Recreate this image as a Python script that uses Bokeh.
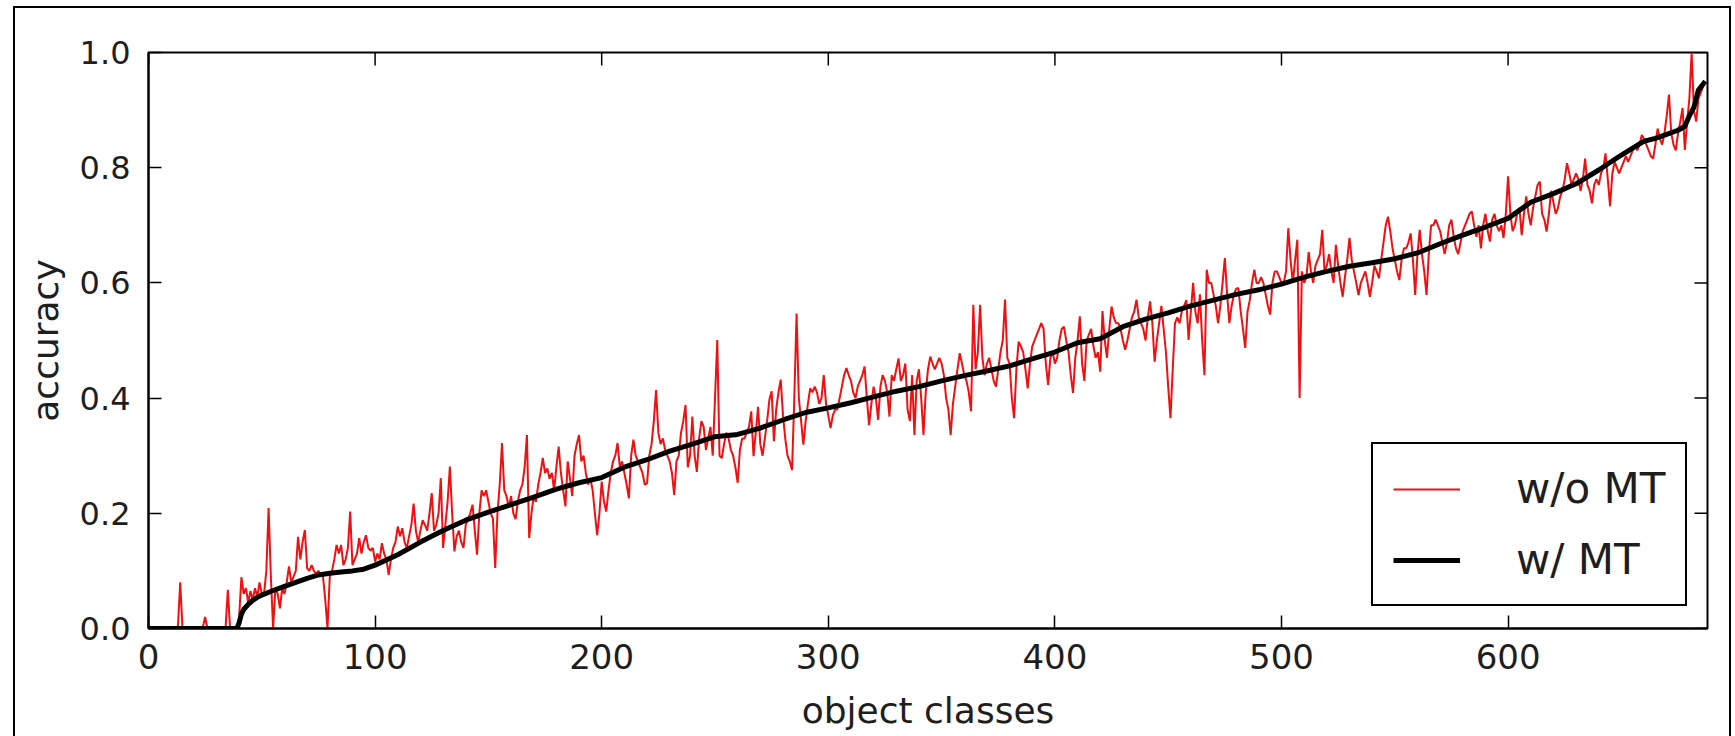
from bokeh.plotting import figure
from bokeh.models import Range1d, FixedTicker, PrintfTickFormatter, Legend, LegendItem
from bokeh.embed import file_html
from bokeh.resources import INLINE

# ---------------- data ----------------
x_ticks = [0, 100, 200, 300, 400, 500, 600]
y_ticks = [0.0, 0.2, 0.4, 0.6, 0.8, 1.0]

# accuracy per object class, without multi-task (red, one value per class index)
acc_wo_mt = [
    0, 0, 0, 0, 0, 0, 0, 0, 0, 0,
    0, 0, 0, 0.005, 0.08, 0, 0, 0, 0, 0,
    0, 0, 0, 0, 0.003, 0.02, 0, 0, 0, 0,
    0, 0, 0, 0, 0, 0.067, 0, 0, 0, 0,
    0.02, 0.089, 0.06, 0.07, 0.045, 0.065, 0.05, 0.07, 0.055, 0.08,
    0.06, 0.06, 0.1, 0.209, 0.09, 0, 0.07, 0.06, 0.035, 0.07,
    0.06, 0.08, 0.108, 0.08, 0.09, 0.1, 0.159, 0.12, 0.15, 0.171,
    0.105, 0.1, 0.11, 0.1, 0.095, 0.1, 0.095, 0.09, 0.05, 0,
    0.09, 0.1, 0.12, 0.145, 0.13, 0.145, 0.11, 0.12, 0.14, 0.203,
    0.11, 0.12, 0.13, 0.157, 0.13, 0.15, 0.162, 0.14, 0.135, 0.14,
    0.116, 0.13, 0.12, 0.148, 0.13, 0.12, 0.093, 0.12, 0.14, 0.15,
    0.177, 0.16, 0.174, 0.15, 0.14, 0.16, 0.18, 0.217, 0.17, 0.15,
    0.17, 0.188, 0.18, 0.17, 0.2, 0.235, 0.17, 0.18, 0.2, 0.261,
    0.14, 0.18, 0.22, 0.281, 0.2, 0.134, 0.16, 0.17, 0.15, 0.14,
    0.18, 0.19, 0.2, 0.215, 0.17, 0.128, 0.2, 0.24, 0.23, 0.24,
    0.22, 0.2, 0.191, 0.105, 0.2, 0.25, 0.322, 0.24, 0.23, 0.21,
    0.23, 0.2, 0.19, 0.22, 0.24, 0.25, 0.28, 0.336, 0.157, 0.2,
    0.23, 0.22, 0.25, 0.27, 0.296, 0.27, 0.278, 0.26, 0.27, 0.24,
    0.28, 0.316, 0.27, 0.24, 0.212, 0.29, 0.26, 0.23, 0.3, 0.32,
    0.336, 0.29, 0.3, 0.27, 0.25, 0.26, 0.24, 0.2, 0.162, 0.2,
    0.255, 0.22, 0.203, 0.24, 0.27, 0.29, 0.3, 0.322, 0.28, 0.29,
    0.27, 0.25, 0.226, 0.3, 0.328, 0.3, 0.29, 0.28, 0.27, 0.25,
    0.252, 0.3, 0.32, 0.36, 0.414, 0.34, 0.32, 0.33, 0.31, 0.3,
    0.29, 0.27, 0.232, 0.29, 0.3, 0.34, 0.36, 0.388, 0.28, 0.3,
    0.368, 0.3, 0.272, 0.33, 0.36, 0.35, 0.31, 0.33, 0.35, 0.3,
    0.4, 0.501, 0.3, 0.296, 0.32, 0.34, 0.33, 0.31, 0.3, 0.28,
    0.253, 0.31, 0.33, 0.33, 0.34, 0.35, 0.377, 0.299, 0.34, 0.385,
    0.32, 0.3, 0.33, 0.36, 0.397, 0.412, 0.325, 0.38, 0.41, 0.432,
    0.37, 0.33, 0.3, 0.29, 0.275, 0.4, 0.547, 0.4, 0.36, 0.319,
    0.36, 0.39, 0.417, 0.41, 0.42, 0.41, 0.39, 0.4, 0.44, 0.39,
    0.37, 0.348, 0.37, 0.38, 0.38, 0.4, 0.42, 0.44, 0.452, 0.44,
    0.43, 0.41, 0.4, 0.42, 0.43, 0.44, 0.455, 0.4, 0.353, 0.39,
    0.42, 0.4, 0.362, 0.42, 0.44, 0.43, 0.41, 0.368, 0.44, 0.43,
    0.45, 0.469, 0.43, 0.44, 0.46, 0.38, 0.36, 0.44, 0.336, 0.43,
    0.45, 0.4, 0.336, 0.41, 0.45, 0.472, 0.46, 0.45, 0.46, 0.47,
    0.46, 0.44, 0.4, 0.38, 0.336, 0.39, 0.42, 0.45, 0.478, 0.46,
    0.44, 0.43, 0.41, 0.377, 0.562, 0.45, 0.48, 0.562, 0.47, 0.44,
    0.46, 0.47, 0.45, 0.43, 0.42, 0.45, 0.48, 0.5, 0.571, 0.47,
    0.46, 0.4, 0.365, 0.45, 0.498, 0.49, 0.48, 0.45, 0.417, 0.46,
    0.49, 0.5, 0.51, 0.52, 0.53, 0.52, 0.46, 0.423, 0.47, 0.48,
    0.46, 0.47, 0.5, 0.52, 0.524, 0.5, 0.48, 0.44, 0.409, 0.47,
    0.5, 0.542, 0.46, 0.43, 0.5, 0.51, 0.52, 0.49, 0.47, 0.48,
    0.446, 0.551, 0.5, 0.47, 0.52, 0.559, 0.54, 0.53, 0.53, 0.52,
    0.5, 0.484, 0.5, 0.52, 0.54, 0.55, 0.571, 0.54, 0.53, 0.52,
    0.5, 0.54, 0.568, 0.53, 0.463, 0.5, 0.53, 0.56, 0.52, 0.48,
    0.42, 0.365, 0.45, 0.53, 0.54, 0.53, 0.55, 0.56, 0.57, 0.501,
    0.55, 0.6, 0.55, 0.53, 0.58, 0.5, 0.44, 0.623, 0.6, 0.6,
    0.58, 0.56, 0.53, 0.56, 0.6, 0.643, 0.58, 0.53, 0.56, 0.58,
    0.59, 0.591, 0.55, 0.52, 0.487, 0.55, 0.57, 0.6, 0.623, 0.6,
    0.6, 0.61, 0.6, 0.58, 0.56, 0.545, 0.6, 0.62, 0.62, 0.61,
    0.6, 0.6, 0.62, 0.695, 0.64, 0.6, 0.64, 0.675, 0.4, 0.62,
    0.6, 0.61, 0.654, 0.62, 0.6, 0.63, 0.64, 0.65, 0.692, 0.62,
    0.63, 0.65, 0.62, 0.6, 0.666, 0.63, 0.6, 0.576, 0.61, 0.64,
    0.678, 0.64, 0.62, 0.6, 0.579, 0.6, 0.61, 0.62, 0.6, 0.576,
    0.6, 0.63, 0.62, 0.608, 0.64, 0.67, 0.7, 0.715, 0.69, 0.66,
    0.64, 0.62, 0.605, 0.64, 0.66, 0.66, 0.67, 0.686, 0.64, 0.579,
    0.65, 0.692, 0.65, 0.62, 0.579, 0.65, 0.7, 0.7, 0.71, 0.7,
    0.69, 0.67, 0.65, 0.67, 0.7, 0.71, 0.68, 0.66, 0.65, 0.67,
    0.69, 0.7, 0.71, 0.72, 0.724, 0.7, 0.68, 0.7, 0.66, 0.7,
    0.72, 0.69, 0.672, 0.71, 0.72, 0.7, 0.69, 0.7, 0.678, 0.72,
    0.785, 0.72, 0.69, 0.7, 0.72, 0.73, 0.683, 0.72, 0.75, 0.72,
    0.7, 0.73, 0.75, 0.77, 0.776, 0.72, 0.71, 0.689, 0.72, 0.76,
    0.74, 0.72, 0.73, 0.75, 0.76, 0.78, 0.808, 0.79, 0.77, 0.78,
    0.79, 0.78, 0.76, 0.78, 0.816, 0.77, 0.76, 0.738, 0.77, 0.78,
    0.77, 0.79, 0.8, 0.825, 0.78, 0.733, 0.79, 0.81, 0.8, 0.79,
    0.8, 0.81, 0.82, 0.81, 0.82, 0.83, 0.84, 0.83, 0.84, 0.857,
    0.85, 0.84, 0.83, 0.82, 0.816, 0.84, 0.868, 0.85, 0.84, 0.86,
    0.89, 0.927, 0.86, 0.84, 0.83, 0.86, 0.88, 0.904, 0.831, 0.88,
    0.92, 1.0, 0.9, 0.88, 0.92, 0.93, 0.94, 0.95,
]
classes_wo = list(range(len(acc_wo_mt)))

# accuracy with multi-task (black, sorted curve) read at sample classes
classes_w = [0, 38, 39, 40, 41, 42, 44, 46, 48, 50, 55, 60, 65, 70, 75, 80, 85, 90, 95,
             100, 110, 120, 130, 140, 150, 160, 170, 180, 190, 200, 210, 220, 230, 240,
             250, 260, 270, 280, 290, 300, 310, 320, 330, 340, 350, 360, 370, 380, 390,
             400, 410, 420, 430, 440, 450, 460, 470, 480, 490, 500, 510, 520, 530, 540,
             550, 560, 570, 580, 590, 600, 610, 620, 630, 640, 650, 660, 665, 670, 675,
             678, 680, 682, 684, 686, 687]
acc_w_mt = [0, 0, 0.0, 0.01, 0.025, 0.033, 0.042, 0.049, 0.054, 0.058, 0.066, 0.073, 0.080,
            0.087, 0.093, 0.096, 0.098, 0.100, 0.103, 0.110, 0.128, 0.150, 0.170, 0.188,
            0.202, 0.215, 0.228, 0.242, 0.253, 0.262, 0.280, 0.293, 0.308, 0.320, 0.333,
            0.337, 0.348, 0.362, 0.375, 0.383, 0.392, 0.402, 0.412, 0.420, 0.430, 0.439,
            0.447, 0.456, 0.468, 0.480, 0.496, 0.503, 0.524, 0.537, 0.548, 0.560, 0.570,
            0.580, 0.588, 0.598, 0.610, 0.620, 0.629, 0.635, 0.642, 0.652, 0.668, 0.683,
            0.697, 0.712, 0.740, 0.755, 0.772, 0.796, 0.822, 0.846, 0.851, 0.858, 0.865,
            0.872, 0.89, 0.905, 0.935, 0.945, 0.95]

series_labels = ["w/o MT", "w/ MT"]
x_max = 688
y_max = 1.0

# ---------------- figure ----------------
FONT = "DejaVu Sans"
FRAME_W, FRAME_H = 1559, 576
TICK_PX = 13

p = figure(frame_width=FRAME_W, frame_height=FRAME_H,
           min_border_left=133, min_border_right=22, min_border_top=44, min_border_bottom=108,
           x_range=Range1d(0, x_max), y_range=Range1d(0, y_max),
           output_backend="svg", toolbar_location=None)
p.styles = {"border-left": "2px solid black", "border-top": "2px solid black",
            "border-right": "2px solid black", "margin-left": "13px", "margin-top": "6px"}
p.background_fill_color = "white"
p.border_fill_color = "white"
p.outline_line_color = "black"
p.outline_line_alpha = 1.0
p.outline_line_width = 2
p.xgrid.visible = False
p.ygrid.visible = False

for ax in (p.xaxis[0], p.yaxis[0]):
    ax.axis_line_color = "black"
    ax.axis_line_width = 2
    ax.major_tick_in = TICK_PX
    ax.major_tick_out = 0
    ax.major_tick_line_width = 1.5
    ax.minor_tick_line_color = None
    ax.major_label_text_font = FONT
    ax.major_label_text_color = "#1e1e1e"
    ax.axis_label_text_font = FONT
    ax.axis_label_text_font_size = "36px"
    ax.axis_label_text_font_style = "normal"
    ax.axis_label_text_color = "#1e1e1e"

p.xaxis[0].major_label_text_font_size = "34px"
p.yaxis[0].major_label_text_font_size = "32px"
p.xaxis[0].ticker = FixedTicker(ticks=x_ticks)
p.yaxis[0].ticker = FixedTicker(ticks=y_ticks)
p.yaxis[0].formatter = PrintfTickFormatter(format="%.1f")
p.xaxis[0].axis_label = "object classes"
p.yaxis[0].axis_label = "accuracy"
p.xaxis[0].major_label_standoff = 15
p.yaxis[0].major_label_standoff = 18
p.xaxis[0].axis_label_standoff = 18
p.yaxis[0].axis_label_standoff = 11

# inward ticks on the top and right spines (matplotlib classic style)
dy_tick = TICK_PX * y_max / FRAME_H
dx_tick = TICK_PX * x_max / FRAME_W
p.segment(x0=x_ticks, y0=[y_max] * len(x_ticks), x1=x_ticks, y1=[y_max - dy_tick] * len(x_ticks),
          line_color="black", line_width=1.5)
p.segment(x0=[x_max] * len(y_ticks), y0=y_ticks, x1=[x_max - dx_tick] * len(y_ticks), y1=y_ticks,
          line_color="black", line_width=1.5)

r_red = p.line(classes_wo, acc_wo_mt, line_color="#f01010", line_width=2)
r_blk = p.line(classes_w, acc_w_mt, line_color="black", line_width=5)

legend = Legend(items=[LegendItem(label=series_labels[0], renderers=[r_red]),
                       LegendItem(label=series_labels[1], renderers=[r_blk])],
                location=(1223, 22))
legend.label_text_font = FONT
legend.label_text_font_size = "42px"
legend.label_text_color = "#1e1e1e"
legend.glyph_width = 67
legend.glyph_height = 42
legend.label_height = 42
legend.label_standoff = 56
legend.padding = 20
legend.spacing = 22
legend.margin = 0
legend.border_line_color = "black"
legend.border_line_alpha = 1.0
legend.border_line_width = 2
legend.background_fill_color = "white"
legend.background_fill_alpha = 1.0
p.add_layout(legend, "center")

open("out.html", "w").write(file_html(p, INLINE))
